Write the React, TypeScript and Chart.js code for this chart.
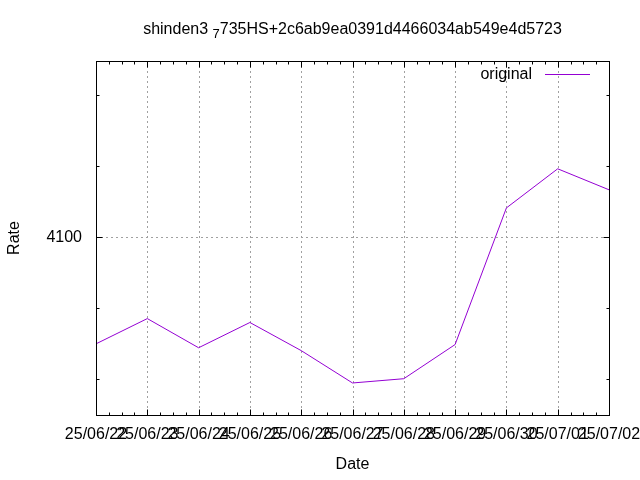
import React, { useEffect, useRef } from 'react';
import { Chart, registerables } from 'chart.js';

Chart.register(...registerables);

const dateLabels = ['25/06/22', '25/06/23', '25/06/24', '25/06/25', '25/06/26', '25/06/27', '25/06/28', '25/06/29', '25/06/30', '25/07/01', '25/07/02'];
const rateValues = [4097.0, 4097.71, 4096.89, 4097.6, 4096.81, 4095.9, 4096.02, 4096.98, 4100.82, 4101.92, 4101.33];
const yMajorTicks = [4100];
const yMinorTicks = [4096, 4098, 4102, 4104];
const xMinorFractions = [0.25, 0.5, 0.75];
const titleMain = 'shinden3 ';
const titleSub = '7';
const titleRest = '735HS+2c6ab9ea0391d4466034ab549e4d5723';
const seriesName = 'original';
const xAxisTitle = 'Date';
const yAxisTitle = 'Rate';

const FONT = '"Liberation Sans", Arial, sans-serif';
const LINE_COLOR = '#9400d3';

const gnuplotPlugin = {
  id: 'gnuplotDecor',
  beforeDatasetsDraw(chart: any) {
    const { ctx, chartArea: a, scales } = chart;
    const x = scales.x;
    const y = scales.y;
    ctx.save();
    ctx.strokeStyle = '#a0a0a0';
    ctx.lineWidth = 1;
    ctx.setLineDash([2, 3]);
    dateLabels.forEach((_, i) => {
      const px = Math.round(x.getPixelForValue(i)) + 0.5;
      ctx.beginPath();
      ctx.moveTo(px, a.top);
      ctx.lineTo(px, a.bottom);
      ctx.stroke();
    });
    yMajorTicks.forEach((v) => {
      const py = Math.round(y.getPixelForValue(v)) + 0.5;
      ctx.beginPath();
      ctx.moveTo(a.left, py);
      ctx.lineTo(a.right, py);
      ctx.stroke();
    });
    ctx.restore();
  },
  afterDraw(chart: any) {
    const { ctx, chartArea: a, scales } = chart;
    const x = scales.x;
    const y = scales.y;
    const L = Math.round(a.left) + 0.5;
    const R = Math.round(a.right) + 0.5;
    const T = Math.round(a.top) + 0.5;
    const B = Math.round(a.bottom) + 0.5;
    ctx.save();
    ctx.setLineDash([]);
    ctx.strokeStyle = '#000';
    ctx.lineWidth = 1;
    ctx.strokeRect(L, T, R - L, B - T);
    const major = 6;
    const minor = 3;
    ctx.beginPath();
    dateLabels.forEach((_, i) => {
      const px = Math.round(x.getPixelForValue(i)) + 0.5;
      ctx.moveTo(px, B); ctx.lineTo(px, B - major);
      ctx.moveTo(px, T); ctx.lineTo(px, T + major);
      if (i < dateLabels.length - 1) {
        xMinorFractions.forEach((f) => {
          const mx = Math.round(x.getPixelForValue(i + f)) + 0.5;
          ctx.moveTo(mx, B); ctx.lineTo(mx, B - minor);
          ctx.moveTo(mx, T); ctx.lineTo(mx, T + minor);
        });
      }
    });
    yMajorTicks.forEach((v) => {
      const py = Math.round(y.getPixelForValue(v)) + 0.5;
      ctx.moveTo(L, py); ctx.lineTo(L + major, py);
      ctx.moveTo(R, py); ctx.lineTo(R - major, py);
    });
    yMinorTicks.forEach((v) => {
      const py = Math.round(y.getPixelForValue(v)) + 0.5;
      ctx.moveTo(L, py); ctx.lineTo(L + minor, py);
      ctx.moveTo(R, py); ctx.lineTo(R - minor, py);
    });
    ctx.stroke();

    // Title with subscript
    ctx.fillStyle = '#000';
    ctx.textBaseline = 'middle';
    ctx.textAlign = 'left';
    const big = `16px ${FONT}`;
    const small = `13px ${FONT}`;
    ctx.font = big;
    const w1 = ctx.measureText(titleMain).width;
    const w3 = ctx.measureText(titleRest).width;
    ctx.font = small;
    const w2 = ctx.measureText(titleSub).width;
    const total = w1 + w2 + w3;
    const cx = (a.left + a.right) / 2;
    let tx = cx - total / 2;
    const ty = 30;
    ctx.font = big;
    ctx.fillText(titleMain, tx, ty);
    tx += w1;
    ctx.font = small;
    ctx.fillText(titleSub, tx, ty + 4);
    tx += w2;
    ctx.font = big;
    ctx.fillText(titleRest, tx, ty);

    // Axis titles
    ctx.textAlign = 'center';
    ctx.fillText(xAxisTitle, cx, 465);
    ctx.save();
    ctx.translate(15, 238);
    ctx.rotate(-Math.PI / 2);
    ctx.fillText(yAxisTitle, 0, 0);
    ctx.restore();

    // Legend
    ctx.textAlign = 'right';
    ctx.fillText(seriesName, 532, 75);
    ctx.strokeStyle = LINE_COLOR;
    ctx.beginPath();
    ctx.moveTo(545, 74.5);
    ctx.lineTo(590, 74.5);
    ctx.stroke();
    ctx.restore();
  },
};

export default function App() {
  const canvasRef = useRef<HTMLCanvasElement | null>(null);

  useEffect(() => {
    const canvas = canvasRef.current;
    if (!canvas) return;
    const chart = new Chart(canvas, {
      type: 'line',
      data: {
        datasets: [
          {
            label: seriesName,
            data: rateValues.map((v, i) => ({ x: i, y: v })),
            borderColor: LINE_COLOR,
            borderWidth: 1,
            pointRadius: 0,
            tension: 0,
            fill: false,
          },
        ],
      },
      options: {
        responsive: false,
        animation: false,
        devicePixelRatio: 1,
        layout: { padding: { left: 0, top: 61, right: 31, bottom: 0 } },
        plugins: {
          legend: { display: false },
          title: { display: false },
          tooltip: { enabled: false },
        },
        scales: {
          x: {
            type: 'linear',
            min: 0,
            max: dateLabels.length - 1,
            grid: { display: false, drawTicks: false },
            border: { display: false },
            afterBuildTicks: (s: any) => {
              s.ticks = dateLabels.map((_, i) => ({ value: i }));
            },
            ticks: {
              autoSkip: false,
              maxRotation: 0,
              minRotation: 0,
              padding: 10,
              color: '#000',
              font: { family: FONT, size: 16 },
              callback: (v: any) => dateLabels[Number(v)] ?? '',
            },
            afterFit: (s: any) => {
              s.height = 65;
              s.paddingLeft = 0;
              s.paddingRight = 0;
            },
          },
          y: {
            type: 'linear',
            min: 4095,
            max: 4104.95,
            grid: { display: false, drawTicks: false },
            border: { display: false },
            afterBuildTicks: (s: any) => {
              s.ticks = yMajorTicks.map((v) => ({ value: v }));
            },
            ticks: {
              padding: 14,
              color: '#000',
              font: { family: FONT, size: 16 },
              callback: (v: any) => String(v),
            },
            afterFit: (s: any) => {
              s.width = 96;
              s.paddingTop = 0;
              s.paddingBottom = 0;
            },
          },
        },
      } as any,
      plugins: [gnuplotPlugin],
    });
    return () => chart.destroy();
  }, []);

  return (
    <div style={{ position: 'absolute', left: 0, top: 0, width: 640, height: 480, background: '#fff' }}>
      <canvas ref={canvasRef} width={640} height={480} />
    </div>
  );
}
